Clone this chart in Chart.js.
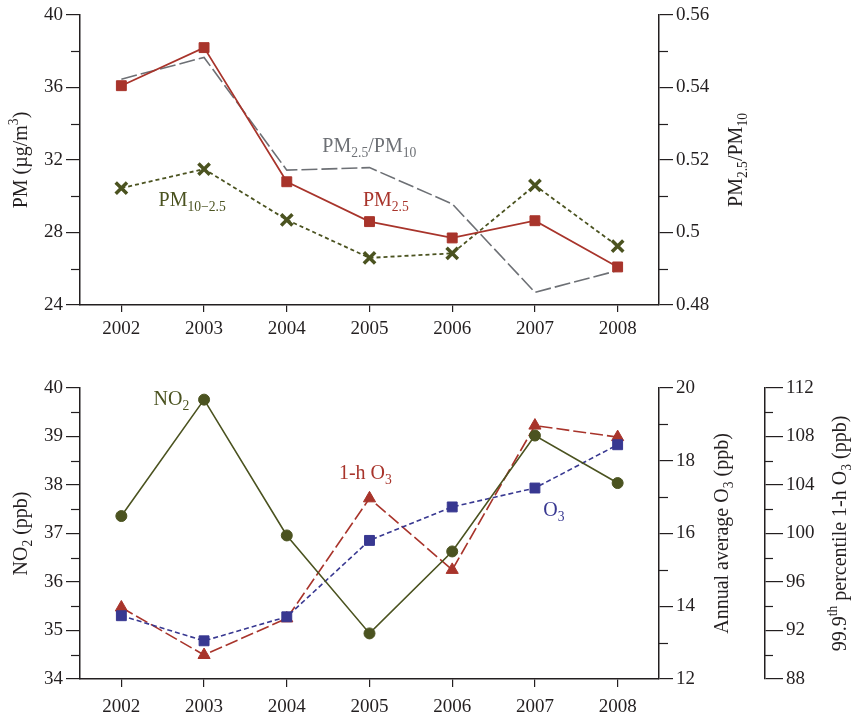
<!DOCTYPE html>
<html>
<head>
<meta charset="utf-8">
<script src="https://cdn.jsdelivr.net/npm/chart.js@4.4.1/dist/chart.umd.min.js"></script>
<style>
html, body { margin:0; padding:0; background:#fff; }
#wrap { position:relative; width:851px; height:718px; }
canvas { position:absolute; left:0; }
#pmChart { top:0; }
#gasChart { top:350px; }
</style>
</head>
<body>
<div id="wrap">
  <canvas id="pmChart" width="851" height="350"></canvas>
  <canvas id="gasChart" width="851" height="368"></canvas>
</div>
<script>
// data
const years = ['2002', '2003', '2004', '2005', '2006', '2007', '2008'];
const pm25 = [36.1, 38.2, 30.8, 28.6, 27.7, 28.65, 26.1];
const pmCoarse = [30.45, 31.5, 28.7, 26.6, 26.85, 30.6, 27.25];
const pmRatio = [0.5423, 0.5483, 0.5172, 0.5179, 0.5079, 0.4835, 0.4895];
const no2 = [37.36, 39.76, 36.96, 34.94, 36.63, 39.02, 38.04];
const o3Annual = [13.74, 13.05, 13.71, 15.81, 16.73, 17.25, 18.44];
const o3Peak = [93.9, 89.98, 93.0, 102.9, 97.0, 108.9, 107.95];

const SERIF = "'Liberation Serif', 'Times New Roman', serif";
const INK = '#231f20';
const RED = '#a8342b', OLIVE = '#4b5320', BLUE = '#383891', GRAY = '#6d7075';
const FS = 19;     // tick labels
const FT = 20;     // titles and in-plot labels

function richText(ctx, parts, x, y, size, color, align, angle) {
    ctx.save();
    ctx.translate(x, y);
    if (angle) ctx.rotate(angle);
    ctx.fillStyle = color;
    ctx.textBaseline = 'alphabetic';
    ctx.textAlign = 'left';
    const pieces = parts.map(([t, k]) => {
        const s = k === 'n' ? size : size * 0.68;
        ctx.font = s + 'px ' + SERIF;
        return { t, k, s, w: ctx.measureText(t).width };
    });
    const total = pieces.reduce((a, p) => a + p.w, 0);
    let cx = align === 'center' ? -total / 2 : 0;
    const base = size * 0.33;
    pieces.forEach(p => {
        ctx.font = p.s + 'px ' + SERIF;
        const dy = p.k === 'sub' ? size * 0.25 : p.k === 'sup' ? -size * 0.42 : 0;
        ctx.fillText(p.t, cx, base + dy);
        cx += p.w;
    });
    ctx.restore();
}

// titles, in-plot labels and minor ticks
const extras = {
    id: 'extras',
    afterDraw(chart, args, opts) {
        const ctx = chart.ctx;
        const area = chart.chartArea;
        ctx.save();
        ctx.strokeStyle = INK;
        ctx.lineWidth = 1.2;
        Object.entries(opts.minor || {}).forEach(([id, [step, len]]) => {
            const sc = chart.scales[id];
            const n = Math.round((sc.max - sc.min) / step);
            for (let i = 1; i < n; i += 2) {
                const py = Math.round(sc.getPixelForValue(sc.min + i * step)) + 0.5;
                const x0 = sc.position === 'left' ? sc.right : sc.left;
                const dir = sc.position === 'left' ? -1 : 1;
                ctx.beginPath();
                ctx.moveTo(x0, py);
                ctx.lineTo(x0 + dir * len, py);
                ctx.stroke();
            }
        });
        ctx.restore();
        const midY = (area.top + area.bottom) / 2;
        (opts.titles || []).forEach(t => {
            richText(ctx, t.parts, t.x, midY, FT, INK, 'center', -Math.PI / 2);
        });
        (opts.notes || []).forEach(n => {
            const px = chart.scales.x.getPixelForValue(n.at);
            const py = chart.scales[n.scale].getPixelForValue(n.val);
            richText(ctx, n.parts, px, py, FT, n.color, 'left', 0);
        });
    }
};

function yAxis(pos, min, max, step, width, tickLen, fmt) {
    return {
        position: pos, min: min, max: max,
        ticks: {
            stepSize: step, padding: 3, color: INK,
            font: { family: SERIF, size: FS },
            callback: fmt || (v => String(v))
        },
        grid: { drawOnChartArea: false, drawTicks: true, tickLength: tickLen, color: INK, lineWidth: 1.2 },
        border: { display: true, color: INK, width: 1.5 },
        afterFit: s => { s.width = width; }
    };
}

function xAxis(height, tickLen, pad) {
    return {
        type: 'category', offset: true,
        ticks: { color: INK, padding: pad, maxRotation: 0, autoSkip: false, font: { family: SERIF, size: FS } },
        grid: { drawOnChartArea: false, drawTicks: true, tickLength: tickLen, color: INK, lineWidth: 1.2, offset: false },
        border: { display: true, color: INK, width: 1.5 },
        afterFit: s => { s.height = height; }
    };
}

const common = {
    responsive: false,
    animation: false,
    events: [],
    plugins: { legend: { display: false }, tooltip: { enabled: false } }
};

new Chart(document.getElementById('pmChart'), {
    type: 'line',
    data: {
        labels: years,
        datasets: [
            {
                label: 'PM2.5', data: pm25, yAxisID: 'y',
                borderColor: RED, borderWidth: 1.7,
                pointStyle: 'rect', pointRadius: 7, pointBackgroundColor: RED, pointBorderColor: RED, pointBorderWidth: 1
            },
            {
                label: 'PM10-2.5', data: pmCoarse, yAxisID: 'y',
                borderColor: OLIVE, borderWidth: 1.8, borderDash: [4, 3],
                pointStyle: 'crossRot', pointRadius: 8, pointBorderColor: OLIVE, pointBorderWidth: 3.5
            },
            {
                label: 'PM2.5/PM10', data: pmRatio, yAxisID: 'y1',
                borderColor: GRAY, borderWidth: 1.6, borderDash: [16, 4], pointRadius: 0
            }
        ]
    },
    options: {
        ...common,
        layout: { padding: { top: 15, left: 0, right: 0, bottom: 0 } },
        scales: {
            x: xAxis(45, 7, 6),
            y: yAxis('left', 24, 40, 4, 80, 14),
            y1: yAxis('right', 0.48, 0.56, 0.02, 192, 14, v => String(+v.toFixed(2)))
        },
        plugins: {
            ...common.plugins,
            extras: {
                minor: { y: [2, 9], y1: [0.01, 9] },
                titles: [
                    { x: 20, parts: [['PM (µg/m', 'n'], ['3', 'sup'], [')', 'n']] },
                    { x: 735, parts: [['PM', 'n'], ['2.5', 'sub'], ['/PM', 'n'], ['10', 'sub']] }
                ],
                notes: [
                    { at: 2.43, scale: 'y', val: 32.8, color: GRAY, parts: [['PM', 'n'], ['2.5', 'sub'], ['/PM', 'n'], ['10', 'sub']] },
                    { at: 0.45, scale: 'y', val: 29.8, color: OLIVE, parts: [['PM', 'n'], ['10\u22122.5', 'sub']] },
                    { at: 2.92, scale: 'y', val: 29.85, color: RED, parts: [['PM', 'n'], ['2.5', 'sub']] }
                ]
            }
        }
    },
    plugins: [extras]
});

new Chart(document.getElementById('gasChart'), {
    type: 'line',
    data: {
        labels: years,
        datasets: [
            {
                label: 'NO2', data: no2, yAxisID: 'y',
                borderColor: OLIVE, borderWidth: 1.6,
                pointStyle: 'circle', pointRadius: 5.5, pointBackgroundColor: OLIVE, pointBorderColor: OLIVE, pointBorderWidth: 1
            },
            {
                label: 'O3', data: o3Annual, yAxisID: 'y1',
                borderColor: BLUE, borderWidth: 1.6, borderDash: [5, 3],
                pointStyle: 'rect', pointRadius: 7, pointBackgroundColor: BLUE, pointBorderColor: BLUE, pointBorderWidth: 1
            },
            {
                label: '1-h O3', data: o3Peak, yAxisID: 'y2',
                borderColor: RED, borderWidth: 1.6, borderDash: [13, 4],
                pointStyle: 'triangle', pointRadius: 7, pointBackgroundColor: RED, pointBorderColor: RED, pointBorderWidth: 1
            }
        ]
    },
    options: {
        ...common,
        layout: { padding: { top: 38, left: 0, right: 0, bottom: 0 } },
        scales: {
            x: xAxis(39, 8, 9),
            y: yAxis('left', 34, 40, 1, 80, 14),
            y1: { ...yAxis('right', 12, 20, 2, 106, 14), weight: 0 },
            y2: { ...yAxis('right', 88, 112, 4, 86, 18), weight: 1 }
        },
        plugins: {
            ...common.plugins,
            extras: {
                minor: { y: [0.5, 9], y1: [1, 9], y2: [2, 8] },
                titles: [
                    { x: 20, parts: [['NO', 'n'], ['2', 'sub'], [' (ppb)', 'n']] },
                    { x: 721, parts: [['Annual average O', 'n'], ['3', 'sub'], [' (ppb)', 'n']] },
                    { x: 839, parts: [['99.9', 'n'], ['th', 'sup'], [' percentile 1-h O', 'n'], ['3', 'sub'], [' (ppb)', 'n']] }
                ],
                notes: [
                    { at: 0.39, scale: 'y', val: 39.78, color: OLIVE, parts: [['NO', 'n'], ['2', 'sub']] },
                    { at: 2.63, scale: 'y', val: 38.26, color: RED, parts: [['1-h O', 'n'], ['3', 'sub']] },
                    { at: 5.1, scale: 'y', val: 37.49, color: BLUE, parts: [['O', 'n'], ['3', 'sub']] }
                ]
            }
        }
    },
    plugins: [extras]
});
</script>
</body>
</html>
